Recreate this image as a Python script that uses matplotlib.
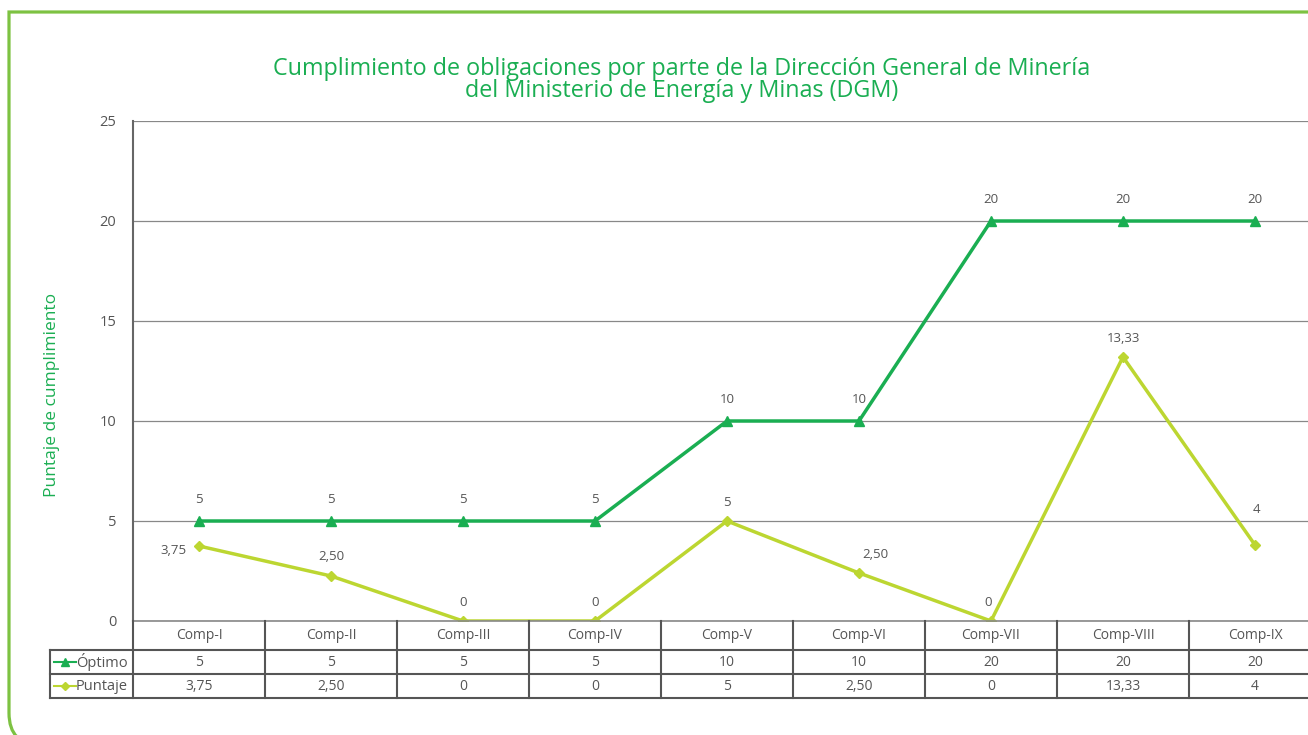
import matplotlib
matplotlib.use('Agg')
from matplotlib import pyplot as plt
from matplotlib.patches import PathPatch
from matplotlib.path import Path

# Data
categorias = ['Comp-I', 'Comp-II', 'Comp-III', 'Comp-IV', 'Comp-V',
              'Comp-VI', 'Comp-VII', 'Comp-VIII', 'Comp-IX']
optimo = [5, 5, 5, 5, 10, 10, 20, 20, 20]
puntaje = [3.75, 2.25, 0, 0, 5, 2.4, 0, 13.2, 3.8]
optimo_txt = ['5', '5', '5', '5', '10', '10', '20', '20', '20']
puntaje_txt = ['3,75', '2,50', '0', '0', '5', '2,50', '0', '13,33', '4']
y_ticks = [0, 5, 10, 15, 20, 25]

# Colours
verde = '#1aae52'
verde_claro = '#bcd631'
borde = '#7dc242'
gris = '#555555'

plt.rcParams['font.family'] = ['Open Sans', 'DejaVu Sans']

W, H = 1308, 735
fig = plt.figure(figsize=(W / 100, H / 100), dpi=100)


def px(x0, y0, x1, y1):
    # pixel box -> figure fraction [left, bottom, width, height]
    return [x0 / W, 1 - y1 / H, (x1 - x0) / W, (y1 - y0) / H]


def fp(x, y):
    return (x / W, 1 - y / H)


# Green frame: square top-left corner, rounded bottom-left corner
r = 32
verts = [fp(1400, 12), fp(9, 12), fp(9, 745 - r), fp(9, 745), fp(9 + r, 745), fp(1400, 745)]
codes = [Path.MOVETO, Path.LINETO, Path.LINETO, Path.CURVE3, Path.CURVE3, Path.LINETO]
frame = PathPatch(Path(verts, codes), transform=fig.transFigure, fill=False,
                  edgecolor=borde, linewidth=2.3, clip_on=False)
fig.patches.append(frame)

fig.text(682 / W, 1 - 80 / H,
         'Cumplimiento de obligaciones por parte de la Dirección General de Minería\n'
         'del Ministerio de Energía y Minas (DGM)',
         ha='center', va='center', color=verde, fontsize=16.8, linespacing=0.9)

# Main plot
col_w = 132
x_right = 133 + col_w * 9
ax = fig.add_axes(px(133, 121, x_right, 621))
x = list(range(len(categorias)))
ax.plot(x, optimo, color=verde, lw=2.5, marker='^', ms=7.5, zorder=3)
ax.plot(x, puntaje, color=verde_claro, lw=2.5, marker='D', ms=5, zorder=3)
ax.set_xlim(-0.5, 8.5)
ax.set_ylim(0, 25)
ax.set_yticks(y_ticks)
ax.set_xticks([])
ax.grid(axis='y', color='#888888', lw=0.9)
ax.set_axisbelow(True)
for s in ['top', 'right', 'bottom']:
    ax.spines[s].set_visible(False)
ax.spines['left'].set_color('#666666')
ax.spines['left'].set_linewidth(1.5)
ax.tick_params(axis='y', length=0, pad=12, labelsize=10.5, labelcolor=gris)
ax.set_ylabel('Puntaje de cumplimiento', color=verde, fontsize=12.5)
ax.yaxis.set_label_coords((60 - 133) / (x_right - 133), (621 - 395) / 500)

fs = 9.5
for i, (v, t) in enumerate(zip(optimo, optimo_txt)):
    ax.annotate(t, (i, v), xytext=(0, 11), textcoords='offset points',
                ha='center', va='bottom', fontsize=fs, color=gris)
for i, (v, t) in enumerate(zip(puntaje, puntaje_txt)):
    if i == 0:
        ax.annotate(t, (i, v), xytext=(-9, -3), textcoords='offset points',
                    ha='right', va='center', fontsize=fs, color=gris)
    elif i == 8:
        ax.annotate(t, (i, v), xytext=(1, 21), textcoords='offset points',
                    ha='center', va='bottom', fontsize=fs, color=gris)
    else:
        dx = 12 if i == 5 else (-2 if i == 6 else 0)
        ax.annotate(t, (i, v), xytext=(dx, 9), textcoords='offset points',
                    ha='center', va='bottom', fontsize=fs, color=gris)

# Data table under the chart
left = 50
tab = fig.add_axes(px(left, 621, x_right, 698))
x_left = -0.5 - (133 - left) / col_w
tab.set_xlim(x_left, 8.5)
tab.set_ylim(77, 0)
tab.axis('off')
lc = '#555555'
tab.plot([-0.5, 8.5], [0, 0], color='#888888', lw=1.2, clip_on=False)
for b in range(10):
    xb = -0.5 + b
    tab.plot([xb, xb], [0, 77], color=lc, lw=1.5, clip_on=False)
tab.plot([x_left, x_left], [29, 77], color=lc, lw=1.5, clip_on=False)
for yb in [29, 53, 77]:
    tab.plot([x_left, 8.5], [yb, yb], color=lc, lw=1.5, clip_on=False)

tfs = 10
for i, c in enumerate(categorias):
    tab.text(i, 14.5, c, ha='center', va='center', fontsize=tfs, color=gris)
    tab.text(i, 41, optimo_txt[i], ha='center', va='center', fontsize=tfs, color=gris)
    tab.text(i, 65, puntaje_txt[i], ha='center', va='center', fontsize=tfs, color=gris)

m0 = x_left + 4 / col_w
m1 = x_left + 26 / col_w
mid = (m0 + m1) / 2
tab.plot([m0, m1], [41, 41], color=verde, lw=1.5, clip_on=False)
tab.plot([m0, m1], [65, 65], color=verde_claro, lw=1.5, clip_on=False)
tab.plot([mid], [41], marker='^', color=verde, ms=6, clip_on=False)
tab.plot([mid], [65], marker='D', color=verde_claro, ms=4.5, clip_on=False)
tab.text(m1, 41, 'Óptimo', ha='left', va='center', fontsize=10.5, color=gris)
tab.text(m1, 65, 'Puntaje', ha='left', va='center', fontsize=10.5, color=gris)

fig.savefig('out.png', dpi=100)
